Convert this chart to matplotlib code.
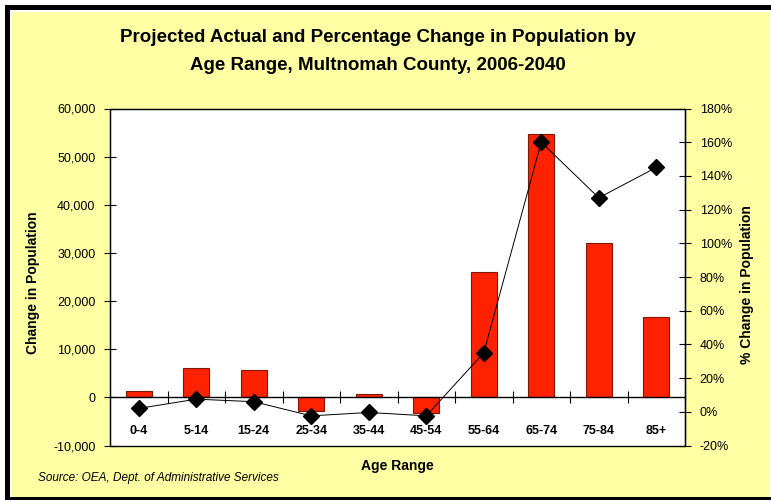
import matplotlib
matplotlib.use("Agg")
import matplotlib.pyplot as plt
from matplotlib.patches import Rectangle
from matplotlib.ticker import FuncFormatter, MultipleLocator
import numpy as np

plt.rcParams['font.family'] = ['Liberation Sans', 'DejaVu Sans']

age_ranges = ["0-4", "5-14", "15-24", "25-34", "35-44", "45-54",
              "55-64", "65-74", "75-84", "85+"]
pop_change = [1400, 6200, 5700, -2800, 600, -3200, 26000, 54700, 32100, 16700]
pct_change = [2, 7.5, 6, -2.4, -0.4, -2.4, 35, 160, 127, 145]

BG = "#FFFFA3"
W, H = 771, 500

fig = plt.figure(figsize=(W / 100, H / 100), dpi=100, facecolor="white")

# outer frame: black border on left/top/bottom, yellow panel inside
fig.patches.append(Rectangle((5 / W, 0), 2.0, 1 - 5 / H, transform=fig.transFigure,
                             facecolor="black", edgecolor="none", zorder=-3))
fig.patches.append(Rectangle((10 / W, 3 / H), 2.0, 1 - 13 / H, transform=fig.transFigure,
                             facecolor="white", edgecolor="none", zorder=-2))
fig.patches.append(Rectangle((12 / W, 3 / H), 758 / W, 1 - 15 / H, transform=fig.transFigure,
                             facecolor=BG, edgecolor="none", zorder=-1))

ax = fig.add_axes([110 / W, 54.5 / H, 575 / W, 337 / H])
ax.set_facecolor("white")

x = np.arange(len(age_ranges))
ax.bar(x, pop_change, width=0.45, color="#FF2200", edgecolor="#7A1A00", linewidth=0.8, zorder=2)

ax.set_xlim(-0.5, len(age_ranges) - 0.5)
ax.set_ylim(-10000, 60000)
ax.yaxis.set_major_locator(MultipleLocator(10000))
ax.yaxis.set_major_formatter(FuncFormatter(lambda v, p: f"{int(v):,}"))
ax.tick_params(axis="y", direction="inout", length=9, width=0.8, labelsize=9, pad=6)

# category axis sits at zero
ax.spines["bottom"].set_position(("data", 0))
ax.spines["bottom"].set_linewidth(1.0)
ax.spines["top"].set_color("#555555")
ax.set_xticks(x + 0.5, minor=False)
ax.set_xticks(x, minor=True)
ax.set_xticklabels([], minor=False)
ax.set_xticklabels(age_ranges, minor=True, fontsize=9, fontweight="bold")
ax.tick_params(axis="x", which="major", direction="inout", length=9, width=0.8)
ax.tick_params(axis="x", which="minor", length=0, pad=20)

# bottom frame of plot area
ax.add_patch(Rectangle((0, 0), 1, 1, transform=ax.transAxes, fill=False,
                       edgecolor="black", linewidth=1.0, zorder=5, clip_on=False))

ax2 = ax.twinx()
ax2.plot(x, pct_change, color="black", linewidth=0.7, marker="D", markersize=8.5,
         markerfacecolor="black", markeredgecolor="black", zorder=3)
ax2.set_ylim(-20, 180)
ax2.yaxis.set_major_locator(MultipleLocator(20))
ax2.yaxis.set_major_formatter(FuncFormatter(lambda v, p: f"{int(v)}%"))
ax2.tick_params(axis="y", direction="inout", length=9, width=0.8, labelsize=9, pad=6)
for s in ["top", "left", "bottom"]:
    ax2.spines[s].set_visible(False)

fig.text(0.49, 0.925, "Projected Actual and Percentage Change in Population by",
         ha="center", va="center", fontsize=13.5, fontweight="bold")
fig.text(0.49, 0.87, "Age Range, Multnomah County, 2006-2040",
         ha="center", va="center", fontsize=13.5, fontweight="bold")

fig.text(33 / W, 1 - 283 / H, "Change in Population", rotation=90,
         ha="center", va="center", fontsize=10, fontweight="bold")
fig.text(747 / W, 1 - 285 / H, "% Change in Population", rotation=90,
         ha="center", va="center", fontsize=10, fontweight="bold")
fig.text(397 / W, 1 - 466 / H, "Age Range", ha="center", va="center",
         fontsize=10, fontweight="bold")
fig.text(38 / W, 1 - 478 / H, "Source: OEA, Dept. of Administrative Services",
         ha="left", va="center", fontsize=8.5, fontstyle="italic")

fig.savefig("out.png", dpi=100, facecolor=fig.get_facecolor())
